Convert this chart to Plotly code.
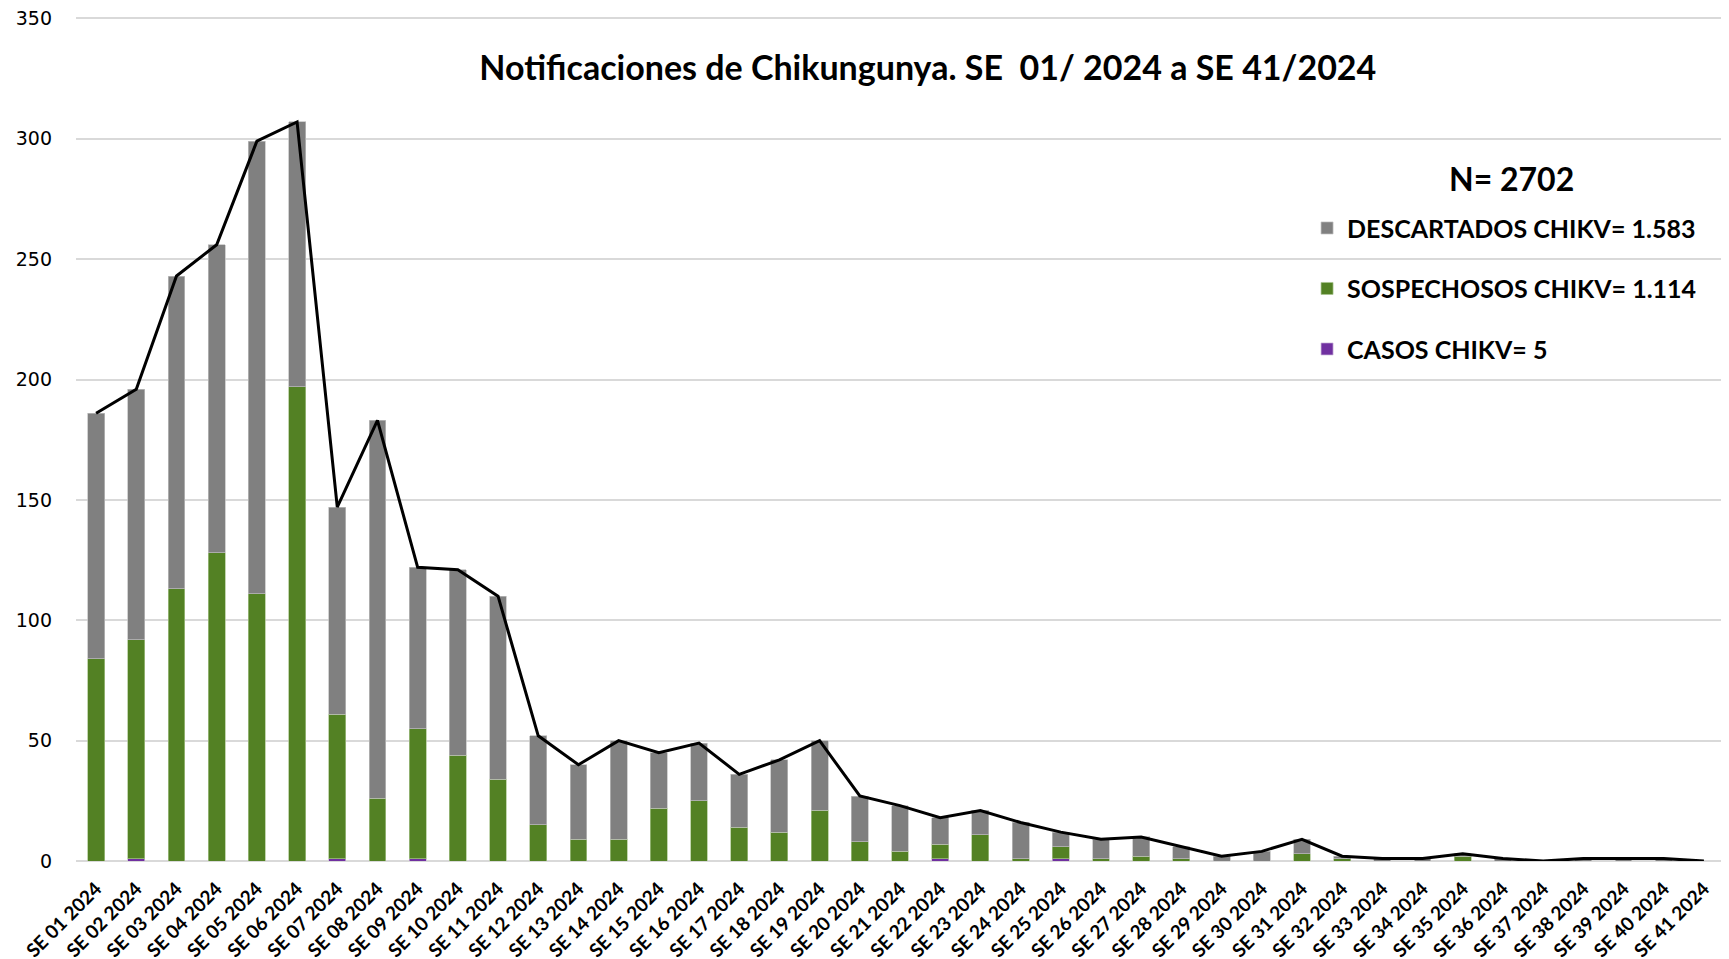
import plotly.graph_objects as go

# semanas epidemiologicas
semanas = ["SE %02d 2024" % i for i in range(1, 42)]

# totales por semana (linea)
total = [186, 196, 243, 256, 299, 307, 147, 183, 122, 121, 110, 52, 40, 50, 45, 49, 36, 42, 50, 27,
         23, 18, 21, 16, 12, 9, 10, 6, 2, 4, 9, 2, 1, 1, 3, 1, 0, 1, 1, 1, 0]

sospechosos = [84, 91, 113, 128, 111, 197, 60, 26, 54, 44, 34, 15, 9, 9, 22, 25, 14, 12, 21, 8,
               4, 6, 11, 1, 5, 1, 2, 1, 0, 0, 3, 1, 0, 0, 2, 0, 0, 0, 0, 0, 0]

casos = [0, 1, 0, 0, 0, 0, 1, 0, 1, 0, 0, 0, 0, 0, 0, 0, 0, 0, 0, 0,
         0, 1, 0, 0, 1, 0, 0, 0, 0, 0, 0, 0, 0, 0, 0, 0, 0, 0, 0, 0, 0]

descartados = [t - s - c for t, s, c in zip(total, sospechosos, casos)]

y_ticks = [0, 50, 100, 150, 200, 250, 300, 350]

FONT = "Lato"

fig = go.Figure()

fig.add_trace(go.Bar(x=semanas, y=casos, name="CASOS CHIKV= 5",
                     marker=dict(color="#7030A0", line=dict(width=0.7, color="#c9b3d9")),
                     legendgroup="c", legendrank=3))
fig.add_trace(go.Bar(x=semanas, y=sospechosos, name="SOSPECHOSOS CHIKV= 1.114",
                     marker=dict(color="#538124", line=dict(width=0.7, color="#a9c48f")),
                     legendgroup="s", legendrank=2))
fig.add_trace(go.Bar(x=semanas, y=descartados, name="DESCARTADOS CHIKV= 1.583",
                     marker=dict(color="#808080", line=dict(width=0.7, color="#bfbfbf")),
                     legendgroup="d", legendrank=1))
fig.add_trace(go.Scatter(x=semanas, y=total, mode="lines", showlegend=False,
                         line=dict(color="black", width=3)))

# la pagina tiene 8px de margen en el body, se compensa aqui
fig.update_layout(
    width=1729, height=959,
    barmode="stack", bargap=0.58,
    plot_bgcolor="white", paper_bgcolor="white",
    margin=dict(l=68, r=13, t=9, b=106),
    font=dict(family=FONT, color="black"),
    title=dict(text="Notificaciones de Chikungunya. SE  01/ 2024 a SE 41/2024",
               x=0.532, xref="container", xanchor="center",
               y=1 - 60 / 959, yref="container", yanchor="middle",
               font=dict(family=FONT, size=34, weight="bold", color="black")),
    legend=dict(x=0.747, y=0.777, xanchor="left", yanchor="top",
                traceorder="grouped", tracegroupgap=25,
                bgcolor="rgba(0,0,0,0)",
                font=dict(family=FONT, size=25, weight="bold", color="black")),
    annotations=[dict(text="N= 2702", x=0.8708, y=0.809, xref="paper", yref="paper",
                      xanchor="center", yanchor="middle", showarrow=False,
                      font=dict(family=FONT, size=32, weight="bold", color="black"))],
)

fig.update_xaxes(tickangle=-45, automargin=False, showgrid=False, showline=False,
                 ticks="", ticklabelstandoff=12,
                 tickfont=dict(family=FONT, size=19, weight="bold", color="black"))
fig.update_yaxes(range=[0, 350.6], tickvals=y_ticks, automargin=False, showgrid=True,
                 gridcolor="#d9d9d9", gridwidth=1.5, zeroline=True, zerolinecolor="#d9d9d9",
                 zerolinewidth=2, showline=False, ticks="", ticklabelstandoff=23,
                 ticklabeloverflow="allow",
                 tickfont=dict(family="DejaVu Sans", size=19, color="black"))

fig.write_html("out.html")
